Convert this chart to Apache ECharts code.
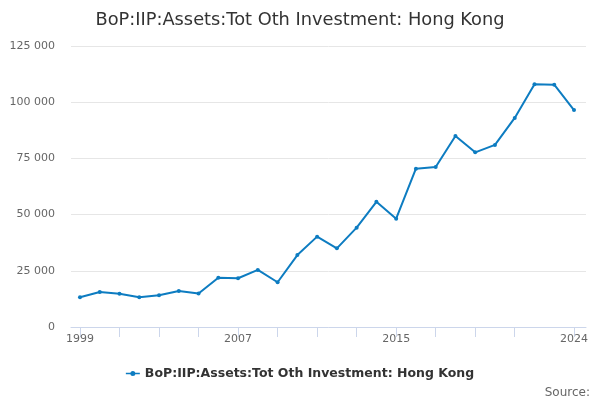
<!DOCTYPE html>
<html>
<head>
<meta charset="utf-8">
<title>BoP:IIP:Assets:Tot Oth Investment: Hong Kong</title>
<script src="https://cdn.jsdelivr.net/npm/echarts@6/dist/echarts.min.js"></script>
<style>
  body { margin: 0; background: #fff; }
  #chart { width: 600px; height: 400px; }
</style>
</head>
<body>
<div id="chart"></div>
<script>
// years and values
var years = [1999, 2000, 2001, 2002, 2003, 2004, 2005, 2006, 2007, 2008, 2009, 2010, 2011,
             2012, 2013, 2014, 2015, 2016, 2017, 2018, 2019, 2020, 2021, 2022, 2023, 2024];
var values = [13200, 15600, 14800, 13200, 14100, 16000, 14900, 21900, 21700, 25400, 19900, 32000, 40200,
              35000, 44200, 55700, 48200, 70400, 71200, 85000, 77700, 81000, 93000, 108000, 107800, 96500];
var tickYears = [1999, 2001, 2003, 2005, 2007, 2009, 2011, 2013, 2015, 2017, 2019, 2021, 2024];
var labelYears = [1999, 2007, 2015, 2024];
var seriesName = 'BoP:IIP:Assets:Tot Oth Investment: Hong Kong';

var points = [];
for (var i = 0; i < years.length; i++) {
  points.push([years[i], values[i]]);
}

var font = 'DejaVu Sans';
var myChart = echarts.init(document.getElementById('chart'));
myChart.setOption({
  animation: false,
  textStyle: { fontFamily: font },
  title: [{
    text: seriesName,
    left: 'center',
    top: 6,
    textStyle: { fontSize: 17.8, fontWeight: 'normal', color: '#333', fontFamily: font }
  }, {
    text: 'Source:',
    right: 5,
    top: 382,
    textStyle: { fontSize: 12, fontWeight: 'normal', color: '#666', fontFamily: font }
  }],
  legend: {
    data: [seriesName],
    top: 362,
    left: 'center',
    itemWidth: 14,
    itemHeight: 5,
    // line with a dot in the middle
    icon: 'path://M0,1.7 L4.6,1.7 L4.6,3.3 L0,3.3 Z M9.4,1.7 L14,1.7 L14,3.3 L9.4,3.3 Z ' +
          'M4.5,2.5 A2.5,2.5 0 1,1 9.5,2.5 A2.5,2.5 0 1,1 4.5,2.5 Z',
    textStyle: { fontSize: 12.5, fontWeight: 'bold', color: '#333', fontFamily: font }
  },
  grid: { left: 71, right: 14, top: 46, bottom: 73, containLabel: false },
  xAxis: {
    type: 'value',
    min: 1998.545,
    max: 2024.607,
    splitLine: { show: false },
    axisLine: { show: true, lineStyle: { color: '#ccd6eb' } },
    axisTick: {
      show: true, length: 10, inside: false,
      customValues: tickYears,
      lineStyle: { color: '#ccd6eb' }
    },
    axisLabel: {
      customValues: labelYears,
      color: '#666', fontSize: 11, margin: 7,
      formatter: function (v) { return String(v); }
    }
  },
  yAxis: {
    type: 'value',
    min: 0,
    max: 125000,
    interval: 25000,
    axisLine: { show: false },
    axisTick: { show: false },
    splitLine: { lineStyle: { color: '#e6e6e6' } },
    axisLabel: {
      color: '#666', fontSize: 11, margin: 16,
      formatter: function (v) {
        return String(v).replace(/\B(?=(\d{3})+(?!\d))/g, ' ');
      }
    }
  },
  series: [{
    name: seriesName,
    type: 'line',
    data: points,
    symbol: 'circle',
    symbolSize: 4,
    itemStyle: { color: '#0d7cc1' },
    lineStyle: { color: '#0d7cc1', width: 2 }
  }]
});
</script>
</body>
</html>
